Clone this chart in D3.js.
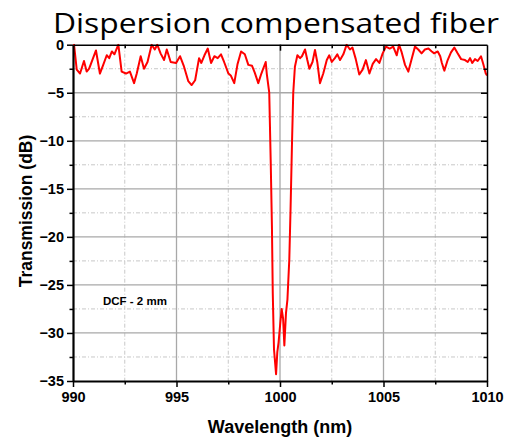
<!DOCTYPE html>
<html>
<head>
<meta charset="utf-8">
<script src="https://cdn.jsdelivr.net/npm/d3@7"></script>
<style>
  body { margin: 0; background: #fff; }
  svg { display: block; }
</style>
</head>
<body>
<div id="viz"></div>
<script>
// data
var wavelength = [990.0, 990.05, 990.18, 990.34, 990.53, 990.66, 990.78, 991.11, 991.3, 991.46, 991.63, 991.75, 991.88, 992.0, 992.19,
  992.35, 992.56, 992.75, 992.95, 993.08, 993.27, 993.43, 993.6, 993.8, 993.95, 994.07, 994.23, 994.4, 994.53, 994.72, 994.98,
  995.17, 995.35, 995.57, 995.73, 995.9, 996.09, 996.2, 996.35, 996.51, 996.67, 996.83, 996.99, 997.15, 997.3, 997.51, 997.62,
  997.79, 997.95, 998.12, 998.3, 998.47, 998.65, 998.78, 998.95, 999.1, 999.31, 999.36, 999.48, 999.55, 999.61, 999.65, 999.71,
  999.81, 999.87, 999.93, 1000.0, 1000.08, 1000.15, 1000.21, 1000.29, 1000.36, 1000.45, 1000.51, 1000.58, 1000.64, 1000.72, 1000.84,
  1000.97, 1001.06, 1001.21, 1001.32, 1001.42, 1001.57, 1001.69, 1001.8, 1001.93, 1002.09, 1002.26, 1002.38, 1002.5, 1002.65, 1002.77,
  1002.9, 1003.06, 1003.22, 1003.38, 1003.5, 1003.66, 1003.83, 1003.99, 1004.15, 1004.32, 1004.48, 1004.64, 1004.8, 1004.96, 1005.12,
  1005.3, 1005.47, 1005.64, 1005.75, 1005.88, 1006.04, 1006.2, 1006.36, 1006.52, 1006.68, 1006.84, 1007.0, 1007.17, 1007.33, 1007.45,
  1007.62, 1007.74, 1007.82, 1007.94, 1008.1, 1008.26, 1008.42, 1008.58, 1008.75, 1008.94, 1009.07, 1009.18, 1009.29, 1009.42, 1009.55,
  1009.71, 1009.82, 1009.94, 1010.0];
var transmission = [-0.1, 0.0, -2.6, -3.0, -1.7, -2.8, -2.5, -0.6, -3.0, -2.1, -1.1, -1.4, -0.7, -1.0, 0.0,
  -2.8, -3.0, -2.8, -4.0, -3.0, -1.2, -2.5, -1.8, 0.0, -0.5, 0.0, -0.9, -1.6, -0.5, -1.8, -1.9,
  -1.2, -2.2, -3.8, -4.2, -3.7, -1.4, -1.9, -1.1, -0.4, -1.9, -1.2, -1.4, -1.0, -1.8, -3.0, -3.2,
  -4.0, -2.0, -0.7, -1.0, -2.1, -2.2, -2.9, -4.0, -3.0, -1.8, -3.0, -5.0, -12.0, -18.9, -25.8, -31.7,
  -34.3, -32.0, -31.0, -29.3, -27.5, -28.5, -31.3, -27.9, -26.5, -22.3, -17.1, -10.2, -5.0, -2.3, -1.1,
  -1.4, -1.2, -0.5, -1.6, -2.5, -1.8, -0.55, -1.8, -4.0, -3.0, -1.6, -1.1, -1.8, -1.4, -1.0,
  -1.6, -1.0, 0.0, -0.5, -0.3, -1.5, -3.1, -2.6, -1.6, -3.0, -2.0, -1.5, -1.9, -0.9, -0.2,
  -0.4, -0.2, -1.1, 0.0, -0.8, -2.1, -2.8, -1.5, -0.2, -0.5, -0.9, -0.5, -0.4, -0.7, -0.9,
  -0.7, -1.2, -1.9, -2.7, -1.6, -0.8, -0.3, -0.9, -1.5, -1.6, -1.8, -1.4, -1.9, -1.5, -1.7,
  -1.2, -2.0, -3.0, -3.2];

var xTicks = [990, 995, 1000, 1005, 1010];
var yTicks = [0, -5, -10, -15, -20, -25, -30, -35];
var xMinor = [992.5, 997.5, 1002.5, 1007.5];
var yMinor = [-2.5, -7.5, -12.5, -17.5, -22.5, -27.5, -32.5];

var W = 508, H = 439;
var pLeft = 73, pRight = 487, pTop = 44.7, pBottom = 381;

var svg = d3.select('#viz').append('svg')
  .attr('width', W)
  .attr('height', H);

var x = d3.scaleLinear().domain([990, 1010]).range([pLeft, pRight]);
var y = d3.scaleLinear().domain([-35, 0]).range([pBottom, pTop]);

// title
svg.append('text')
  .attr('x', 276)
  .attr('y', 33)
  .attr('text-anchor', 'middle')
  .attr('font-family', 'Open Sans, Noto Sans, sans-serif')
  .attr('font-size', 28)
  .attr('textLength', 446)
  .attr('lengthAdjust', 'spacingAndGlyphs')
  .attr('fill', '#000')
  .text('Dispersion compensated fiber');

// grid lines
var grid = svg.append('g');
grid.selectAll('.hMinor').data(yMinor).enter().append('line')
  .attr('x1', pLeft).attr('x2', pRight)
  .attr('y1', function (d) { return y(d); }).attr('y2', function (d) { return y(d); })
  .attr('stroke', '#c8c8c8').attr('stroke-width', 1).attr('stroke-dasharray', '4,2,1,2');
grid.selectAll('.vMinor').data(xMinor).enter().append('line')
  .attr('y1', pTop).attr('y2', pBottom)
  .attr('x1', function (d) { return x(d); }).attr('x2', function (d) { return x(d); })
  .attr('stroke', '#c8c8c8').attr('stroke-width', 1).attr('stroke-dasharray', '4,2,1,2');
grid.selectAll('.hMajor').data(yTicks.slice(1, -1)).enter().append('line')
  .attr('x1', pLeft).attr('x2', pRight)
  .attr('y1', function (d) { return y(d); }).attr('y2', function (d) { return y(d); })
  .attr('stroke', '#a8a8a8').attr('stroke-width', 1.3);
grid.selectAll('.vMajor').data(xTicks.slice(1, -1)).enter().append('line')
  .attr('y1', pTop).attr('y2', pBottom)
  .attr('x1', function (d) { return x(d); }).attr('x2', function (d) { return x(d); })
  .attr('stroke', '#a8a8a8').attr('stroke-width', 1.3);

// the curve
svg.append('clipPath').attr('id', 'clip').append('rect')
  .attr('x', pLeft).attr('y', pTop - 1).attr('width', pRight - pLeft).attr('height', pBottom - pTop + 1);

var pts = wavelength.map(function (d, i) { return [d, transmission[i]]; });
var line = d3.line()
  .x(function (d) { return x(d[0]); })
  .y(function (d) { return y(d[1]); });

svg.append('path')
  .datum(pts)
  .attr('clip-path', 'url(#clip)')
  .attr('d', line)
  .attr('fill', 'none')
  .attr('stroke', '#ff0000')
  .attr('stroke-width', 2)
  .attr('stroke-linejoin', 'round');

// axes
var tickFont = 'Liberation Sans, Arial, sans-serif';
var fmt = d3.format('d');

var xAxis = svg.append('g')
  .attr('transform', 'translate(0,' + pBottom + ')')
  .call(d3.axisBottom(x).tickValues(xTicks).tickSize(6).tickSizeOuter(0).tickPadding(5).tickFormat(fmt));
var xAxisMinor = svg.append('g')
  .attr('transform', 'translate(0,' + pBottom + ')')
  .call(d3.axisBottom(x).tickValues(xMinor).tickSize(3.5).tickFormat(''));
xAxisMinor.select('.domain').remove();

var yAxis = svg.append('g')
  .attr('transform', 'translate(' + pLeft + ',0)')
  .call(d3.axisLeft(y).tickValues(yTicks).tickSize(6).tickSizeOuter(0).tickPadding(3).tickFormat(fmt));
var yAxisMinor = svg.append('g')
  .attr('transform', 'translate(' + pLeft + ',0)')
  .call(d3.axisLeft(y).tickValues(yMinor).tickSize(3.5).tickFormat(''));
yAxisMinor.select('.domain').remove();

// right and top frame with inward ticks
svg.append('g')
  .attr('transform', 'translate(' + pRight + ',0)')
  .call(d3.axisLeft(y).tickValues(yTicks.slice(1, -1)).tickSize(6).tickSizeOuter(0).tickFormat(''));
svg.append('g')
  .attr('transform', 'translate(' + pRight + ',0)')
  .call(d3.axisLeft(y).tickValues(yMinor).tickSize(3.5).tickFormat(''))
  .select('.domain').remove();
svg.append('g')
  .attr('transform', 'translate(0,' + pTop + ')')
  .call(d3.axisBottom(x).tickValues(xTicks.slice(1, -1)).tickSize(6).tickSizeOuter(0).tickFormat(''));
svg.append('g')
  .attr('transform', 'translate(0,' + pTop + ')')
  .call(d3.axisBottom(x).tickValues(xMinor).tickSize(3.5).tickFormat(''))
  .select('.domain').remove();

svg.selectAll('.domain').attr('stroke', '#000').attr('stroke-width', 1.5);
xAxis.select('.domain').attr('stroke-width', 2.2);
yAxis.select('.domain').attr('stroke-width', 2.2);
svg.selectAll('.tick line').attr('stroke', '#000').attr('stroke-width', 1.5);

svg.selectAll('.tick text')
  .attr('font-family', tickFont)
  .attr('font-size', 14.5)
  .attr('font-weight', 'bold')
  .attr('fill', '#000');

// axis titles
svg.append('text')
  .attr('transform', 'translate(32,211) rotate(-90)')
  .attr('text-anchor', 'middle')
  .attr('font-family', tickFont)
  .attr('font-size', 17.5)
  .attr('font-weight', 'bold')
  .text('Transmission (dB)');

svg.append('text')
  .attr('x', 280)
  .attr('y', 433)
  .attr('text-anchor', 'middle')
  .attr('font-family', tickFont)
  .attr('font-size', 18)
  .attr('font-weight', 'bold')
  .text('Wavelength (nm)');

// annotation
svg.append('text')
  .attr('x', x(991.45))
  .attr('y', y(-27.1))
  .attr('font-family', tickFont)
  .attr('font-size', 11.5)
  .attr('font-weight', 'bold')
  .text('DCF - 2 mm');
</script>
</body>
</html>
